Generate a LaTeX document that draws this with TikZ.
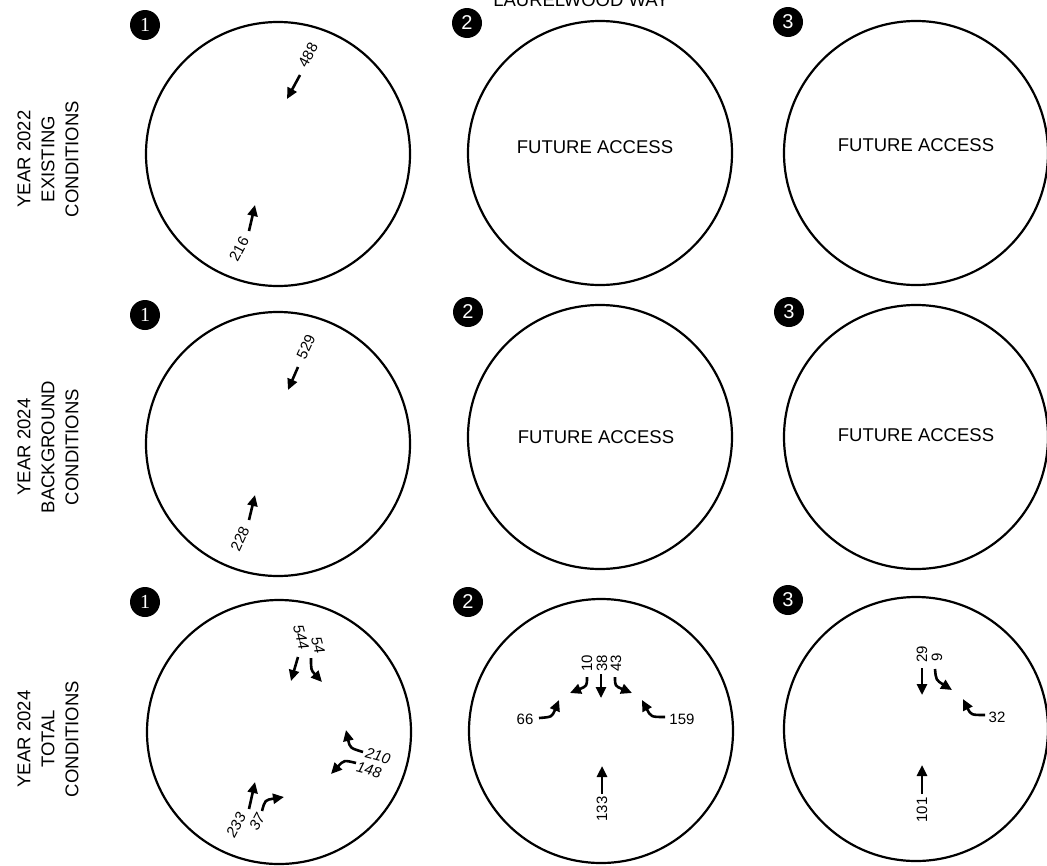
\documentclass[tikz,border=0pt]{standalone}
\usepackage{fontspec}
\setmainfont{Liberation Sans}
\newfontfamily\serifnum{Liberation Serif}
\usetikzlibrary{arrows.meta}

\begin{document}
\begin{tikzpicture}[
    x=1pt, y=-1pt,
    ring/.style={draw, circle, line width=2.2pt, minimum size=264pt, inner sep=0pt},
    badge/.style={circle, fill=black, text=white, minimum size=30pt, inner sep=0pt,
                  font=\fontsize{20}{20}\selectfont},
    rowlab/.style={rotate=90, align=center, font=\fontsize{18.5}{24}\selectfont},
    acc/.style={font=\fontsize{18.5}{20}\selectfont},
    vol/.style={inner sep=0pt, font=\fontsize{15}{15}\selectfont},
    volit/.style={vol, font=\fontsize{15}{15}\itshape},
    flow/.style={line width=2.6pt, -{Triangle[length=11pt,width=10pt]}}
]
    \useasboundingbox (0,0) rectangle (1047,865);

    % street name, cut off at the top
    \node[acc, anchor=base] (road) at (581,6) {LAURELWOOD WAY};

    % row titles
    \node[rowlab] (lab1) at (48,159) {YEAR 2022\\EXISTING\\CONDITIONS};
    \node[rowlab] (lab2) at (48,447) {YEAR 2024\\BACKGROUND\\CONDITIONS};
    \node[rowlab] (lab3) at (48,739) {YEAR 2024\\TOTAL\\CONDITIONS};

    % intersection circles
    \node[ring] (r11) at (278,154) {};
    \node[ring] (r12) at (600,153) {};
    \node[ring] (r13) at (916,153) {};
    \node[ring] (r21) at (278,444) {};
    \node[ring] (r22) at (600,437) {};
    \node[ring] (r23) at (916,437) {};
    \node[ring] (r31) at (279,732) {};
    \node[ring] (r32) at (601,731) {};
    \node[ring] (r33) at (916,729) {};

    % numbered badges
    \node[badge] (b11) at (145,25) {\serifnum 1};
    \node[badge] (b12) at (467,23) {2};
    \node[badge] (b13) at (788,22) {3};
    \node[badge] (b21) at (145,315) {\serifnum 1};
    \node[badge] (b22) at (468,312) {2};
    \node[badge] (b23) at (789,312) {3};
    \node[badge] (b31) at (145,602) {\serifnum 1};
    \node[badge] (b32) at (468,602) {2};
    \node[badge] (b33) at (788,600) {3};

    \node[acc, yshift=6pt, xshift=-5pt] (fa12) at (r12) {FUTURE ACCESS};
    \node[acc, yshift=8pt] (fa13) at (r13) {FUTURE ACCESS};
    \node[acc, yshift=0pt, xshift=-4pt] (fa22) at (r22) {FUTURE ACCESS};
    \node[acc, yshift=2pt] (fa23) at (r23) {FUTURE ACCESS};

    % 2022 existing, intersection 1
    \node[vol, rotate=62] (v488) at (308,55) {488};
    \draw[flow] (300,75) -- (287,99);
    \node[vol, rotate=62] (v216) at (239,249) {216};
    \draw[flow] (249,231) -- (255,205);

    % 2024 background, intersection 1
    \node[vol, rotate=65] (v529) at (306,347) {529};
    \draw[flow] (298,367) -- (288,390);
    \node[vol, rotate=65] (v228) at (240,539) {228};
    \draw[flow] (249,520) -- (255,495);

    % 2024 total, intersection 1
    \node[volit, rotate=-75] (v544) at (301,637) {544};
    \node[volit, rotate=-75] (v54) at (318,645) {54};
    \draw[flow] (298,657) -- (291,681);
    \draw[flow] (311,658) .. controls (311,670) .. (322,682);
    \node[volit, rotate=-15] (v210) at (378,756) {210};
    \draw[flow] (363,752) .. controls (350,748) .. (346,730);
    \node[volit, rotate=-15] (v148) at (369,770) {148};
    \draw[flow] (356,763) .. controls (344,760) .. (331,774);
    \node[volit, rotate=62] (v233) at (236,825) {233};
    \draw[flow] (249,809) -- (255,782);
    \node[volit, rotate=62] (v37) at (257,822) {37};
    \draw[flow] (262,811) .. controls (265,800) .. (284,797);

    % 2024 total, intersection 2
    \node[vol, rotate=90] (v10) at (587,663) {10};
    \node[vol, rotate=90] (v38) at (602,663) {38};
    \node[vol, rotate=90] (v43) at (616,663) {43};
    \draw[flow] (587,677) .. controls (587,686) .. (570,693);
    \draw[flow] (601,674) -- (601,698);
    \draw[flow] (615,677) .. controls (615,686) .. (632,693);
    \node[vol] (v66) at (525,719) {66};
    \draw[flow] (539,718) .. controls (552,717) .. (559,700);
    \node[vol] (v159) at (682,719) {159};
    \draw[flow] (665,717) .. controls (651,717) .. (642,700);
    \node[vol, rotate=90] (v133) at (602,809) {133};
    \draw[flow] (602,794) -- (602,766);

    % 2024 total, intersection 3
    \node[vol, rotate=90] (v29) at (922,654) {29};
    \node[vol, rotate=90] (v9) at (937,657) {9};
    \draw[flow] (922,668) -- (922,695);
    \draw[flow] (935,669) .. controls (936,680) .. (952,690);
    \node[vol] (v32) at (997,717) {32};
    \draw[flow] (985,715) .. controls (971,715) .. (963,699);
    \node[vol, rotate=90] (v101) at (922,810) {101};
    \draw[flow] (922,794) -- (922,765);
\end{tikzpicture}
\end{document}
